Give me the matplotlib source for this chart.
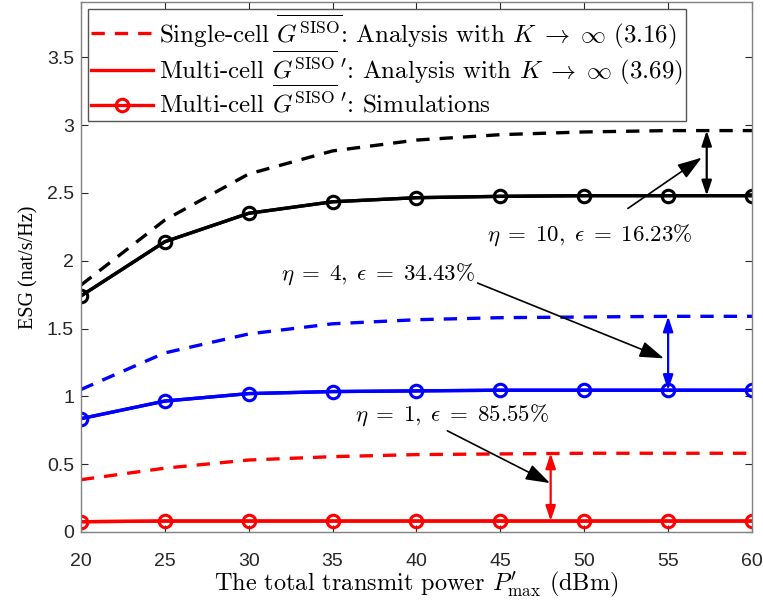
import numpy as np
import matplotlib
matplotlib.use('Agg')
import matplotlib.pyplot as plt

# transmit power (dBm)
p_max = [20, 25, 30, 35, 40, 45, 50, 55, 60]

# eta = 10
single_10 = [1.82, 2.30, 2.64, 2.81, 2.89, 2.93, 2.95, 2.96, 2.96]
multi_10 = [1.74, 2.14, 2.35, 2.435, 2.465, 2.475, 2.48, 2.48, 2.48]
# eta = 4
single_4 = [1.05, 1.32, 1.46, 1.535, 1.565, 1.58, 1.585, 1.59, 1.59]
multi_4 = [0.835, 0.965, 1.02, 1.035, 1.04, 1.045, 1.045, 1.045, 1.045]
# eta = 1
single_1 = [0.385, 0.47, 0.53, 0.555, 0.57, 0.575, 0.58, 0.58, 0.58]
multi_1 = [0.075, 0.08, 0.08, 0.08, 0.08, 0.08, 0.08, 0.08, 0.08]

plt.rcParams['mathtext.fontset'] = 'cm'
plt.rcParams['axes.unicode_minus'] = False

fig = plt.figure(figsize=(7.63, 6.01), dpi=100)
ax = fig.add_axes([0.106, 0.115, 0.8796, 0.882])

lw = 2.4
ms = 9
series = [('k', single_10, multi_10), ('b', single_4, multi_4), ('r', single_1, multi_1)]
for c, s, m in series:
    ax.plot(p_max, s, '--', color=c, lw=lw, dashes=(4, 3))
    ax.plot(p_max, m, '-', color=c, lw=lw)
    ax.plot(p_max, m, '-', color=c, lw=lw, marker='o', ms=ms, mfc='none', mew=2.2)

# legend handles (red)
h1, = ax.plot([], [], '--', color='r', lw=lw, dashes=(4, 3))
h2, = ax.plot([], [], '-', color='r', lw=lw)
h3, = ax.plot([], [], '-', color='r', lw=lw, marker='o', ms=ms, mfc='none', mew=2.2)
labels = [
    r'Single-cell $\overline{G^{\rm SISO}}$: Analysis with $K\;\rightarrow\;\infty$ (3.16)',
    r"Multi-cell $\overline{G^{\rm SISO}}\,'$: Analysis with $K\;\rightarrow\;\infty$ (3.69)",
    r"Multi-cell $\overline{G^{\rm SISO}}\,'$: Simulations",
]
leg = ax.legend([h1, h2, h3], labels, loc='upper left', bbox_to_anchor=(0.0, 1.0),
                prop={'family': 'cmr10', 'size': 18}, fancybox=False, framealpha=1,
                edgecolor='#555555', handlelength=2.45, handletextpad=0.25,
                borderaxespad=0.3, labelspacing=-0.08, borderpad=0.12)
leg.get_frame().set_linewidth(1.0)

# double arrows showing the gap
def gap_arrow(x, y0, y1, c):
    ax.annotate('', xy=(x, y1), xytext=(x, y0),
                arrowprops=dict(arrowstyle='<|-|>,head_length=0.9,head_width=0.3',
                                color=c, lw=1.6, shrinkA=0, shrinkB=0))

gap_arrow(57.3, 2.48, 2.96, 'k')
gap_arrow(55.0, 1.045, 1.59, 'b')
gap_arrow(48.0, 0.08, 0.58, 'r')

ann = dict(ha='center', va='center', size=16.5)
head = '-|>,head_length=0.9,head_width=0.3'
ax.annotate(r'$\eta\;=\;10,\;\epsilon\;=\;16.23\%$', xy=(57.0, 2.76), xytext=(50.3, 2.19),
            arrowprops=dict(arrowstyle=head, color='k', lw=1.2, shrinkA=14, shrinkB=0),
            **ann)
ax.annotate(r'$\eta\;=\;4,\;\epsilon\;=\;34.43\%$', xy=(54.75, 1.28), xytext=(37.7, 1.90),
            arrowprops=dict(arrowstyle=head, color='k', lw=1.2, shrinkA=0, shrinkB=0,
                            relpos=(1.0, 0.2)), **ann)
ax.annotate(r'$\eta\;=\;1,\;\epsilon\;=\;85.55\%$', xy=(47.96, 0.36), xytext=(42.1, 0.86),
            arrowprops=dict(arrowstyle=head, color='k', lw=1.2, shrinkA=0, shrinkB=0,
                            relpos=(0.45, 0.0)), **ann)

ax.set_xlim(20, 60)
ax.set_ylim(0, 3.91)
ax.set_xticks(p_max)
ax.set_yticks(np.arange(0, 3.6, 0.5))
ax.set_yticklabels(['0', '0.5', '1', '1.5', '2', '2.5', '3', '3.5'])
ax.tick_params(direction='in', top=True, right=True, labelsize=14, colors='#262626',
               length=5, width=0.8)
ax.tick_params(axis='x', pad=15)
ax.tick_params(axis='y', pad=5)
for s in ax.spines.values():
    s.set_color('#808080')
    s.set_linewidth(1.0)
for lab in ax.get_xticklabels() + ax.get_yticklabels():
    lab.set_family(['Liberation Sans', 'DejaVu Sans'])

ax.set_xlabel(r"The total transmit power $P^{\prime}_{\rm max}$ (dBm)", family='cmr10',
              size=17.5, labelpad=0)
ax.set_ylabel('ESG (nat/s/Hz)', family='Liberation Serif', size=14.5, labelpad=6)

fig.savefig('out.png', dpi=100)
